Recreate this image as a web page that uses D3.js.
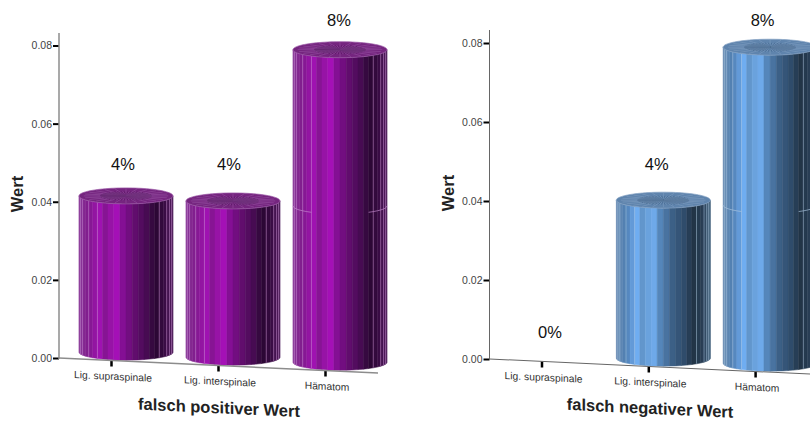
<!DOCTYPE html>
<html>
<head>
<meta charset="utf-8">
<script src="https://cdn.jsdelivr.net/npm/d3@7"></script>
<style>
  html, body { margin: 0; padding: 0; background: #fff; }
  svg { display: block; }
  text { font-family: "Liberation Sans", Arial, sans-serif; }
</style>
</head>
<body>
<svg id="chart" width="810" height="421"></svg>
<script>
// Daten
const categories = ["Lig. supraspinale", "Lig. interspinale", "Hämatom"];
const positiveValues = [0.04, 0.04, 0.08];
const negativeValues = [0, 0.04, 0.08];
const positiveLabels = ["4%", "4%", "8%"];
const negativeLabels = ["0%", "4%", "8%"];
const yTicks = [0, 0.02, 0.04, 0.06, 0.08];

// Schattierung der Zylinder von links nach rechts
const shadeStops = [0, 0.1, 0.22, 0.3, 0.38, 0.46, 0.6, 0.72, 0.82, 0.92, 1];
const purpleShades = ["#8a3a98", "#7f1a8c", "#a012b2", "#7e1589", "#b010c3", "#860f96", "#600d6c", "#470b52", "#2a0733", "#3b0c46", "#4e1a5a"];
const blueShades = ["#6d8fb4", "#4f7eb2", "#70aef3", "#5d8ebf", "#78b6fb", "#5688bd", "#3c5f85", "#2f4c6b", "#213446", "#293f56", "#42607c"];

const slope = 0.047;
const skewAngle = Math.atan(slope) * 180 / Math.PI;
const radius = 47, ry = 8, facets = 24;
const line = d3.line();
const svg = d3.select("#chart");

function drawPanel(p) {
    const g = svg.append("g");
    const y = d3.scaleLinear().domain([0, 0.08]).range([p.y0, p.y8]);
    const x = d3.scaleBand().domain(categories).range(p.xRange);
    const color = d3.scaleLinear().domain(shadeStops).range(p.shades);
    const axisY = px => p.y0 + (px - p.x0) * slope;

    // Zylinder
    categories.forEach((cat, i) => {
        if (p.values[i] > 0) {
            const cx = x(cat) + x.bandwidth() / 2 + 14.5;
            drawCylinder(g, cx, axisY(cx) - 9, y(0) - y(p.values[i]), y(0) - y(0.04), p.values[i] > 0.04, color, p);
        }
    });

    // Y-Achse
    const yAxis = g.append("g")
        .attr("transform", `translate(${p.x0},0)`)
        .call(d3.axisLeft(y).tickValues(yTicks).tickFormat(d3.format(".2f")).tickSize(6).tickPadding(1).tickSizeOuter(0));
    yAxis.select(".domain").remove();
    yAxis.selectAll("line").attr("stroke", "#000").attr("stroke-width", 2);
    yAxis.selectAll("text").attr("fill", "#444").style("font-size", "10.5px").style("font-family", '"Liberation Sans", Arial, sans-serif');
    g.append("line")
        .attr("x1", p.x0).attr("x2", p.x0)
        .attr("y1", p.yTop).attr("y2", p.y0 + 1)
        .attr("stroke", p.axisColor).attr("stroke-width", p.axisWidth);

    // X-Achse, leicht geneigt wie im 3D-Bild
    const skew = `translate(${p.x0},${p.y0}) skewY(${skewAngle}) translate(${-p.x0},0)`;
    const xAxis = g.append("g")
        .attr("transform", skew)
        .call(d3.axisBottom(x).tickSize(6).tickPadding(6).tickSizeOuter(0));
    xAxis.select(".domain").remove();
    xAxis.selectAll("line").attr("stroke", "#000").attr("stroke-width", 2.5);
    xAxis.selectAll("text").attr("fill", "#333").attr("dx", 1.5)
        .style("font-size", "10.3px").style("font-family", '"Liberation Sans", Arial, sans-serif');
    xAxis.append("line")
        .attr("x1", p.x0).attr("x2", p.axisEnd)
        .attr("stroke", p.axisColor).attr("stroke-width", p.axisWidth);

    // Prozentwerte
    g.selectAll(".pct")
        .data(p.labels)
        .join("text")
        .attr("class", "pct")
        .attr("x", (d, i) => x(categories[i]) + x.bandwidth() / 2 + p.labelDx[i])
        .attr("y", (d, i) => y(p.values[i]) - p.labelLift[i])
        .attr("dy", "0.35em")
        .attr("text-anchor", "middle")
        .attr("fill", "#111")
        .style("font-size", "16.5px")
        .text(d => d);

    // Achsentitel
    g.append("text")
        .attr("transform", `translate(${p.wertX},${p.wertY}) rotate(-90)`)
        .attr("text-anchor", "middle")
        .attr("fill", "#222")
        .style("font-size", "16.5px")
        .style("font-weight", "bold")
        .text("Wert");
    g.append("text")
        .attr("transform", `translate(${p.titleX},${p.titleY}) skewY(${skewAngle})`)
        .attr("text-anchor", "middle")
        .attr("dy", "0.35em")
        .attr("fill", "#222")
        .style("font-size", "16.5px")
        .style("font-weight", "bold")
        .text(p.title);
}

function drawCylinder(g, cx, yBase, h, seamH, hasSeam, color, p) {
    const yTop = yBase - h;
    const edge = (a, yc) => [cx - radius * Math.cos(a), yc + ry * Math.sin(a)];
    const step = Math.PI / facets;
    const cyl = g.append("g");

    // Mantel aus schmalen Streifen
    d3.range(facets).forEach(i => {
        const a0 = i * step, a1 = (i + 1) * step;
        const mid = (edge(a0, 0)[0] + edge(a1, 0)[0]) / 2;
        const c = color((mid - (cx - radius)) / (2 * radius));
        cyl.append("path")
            .attr("d", line([edge(a0, yTop), edge(a1, yTop), edge(a1, yBase), edge(a0, yBase)]) + "Z")
            .attr("fill", c)
            .attr("stroke", c)
            .attr("stroke-width", 0.5);
    });

    // helle Kanten am Rand des Mantels
    const hairlines = [2, 3, 5, 7, 18, 20, 21, 22];
    hairlines.forEach(i => {
        const a = i * step;
        cyl.append("path")
            .attr("d", line([edge(a, yTop), edge(a, yBase)]))
            .attr("stroke", p.hair)
            .attr("stroke-width", 0.7)
            .attr("opacity", 0.7)
            .attr("fill", "none");
    });

    // Naht des hohen Zylinders bei 0.04
    if (hasSeam) {
        [d3.range(0, 8), d3.range(17, 25)].forEach(part => {
            cyl.append("path")
                .attr("d", line(part.map(i => edge(i * step, yBase - seamH))))
                .attr("stroke", p.hair)
                .attr("stroke-width", 0.8)
                .attr("opacity", 0.85)
                .attr("fill", "none");
        });
    }

    // Deckel: Ellipse mit radialen Linien
    const rim = d3.range(0, 97).map(i => {
        const a = i * Math.PI / 48;
        return [cx - radius * Math.cos(a), yTop + ry * Math.sin(a)];
    });
    cyl.append("path")
        .attr("d", line(rim) + "Z")
        .attr("fill", p.top)
        .attr("stroke", p.topLight)
        .attr("stroke-width", 0.7);
    rim.slice(0, 96).forEach((pt, i) => {
        const reach = i % 4 === 0 ? 0.9 : 0.55;
        cyl.append("line")
            .attr("x1", cx).attr("y1", yTop)
            .attr("x2", cx + (pt[0] - cx) * reach).attr("y2", yTop + (pt[1] - yTop) * reach)
            .attr("stroke", i % 2 ? p.topDark : p.topLight)
            .attr("stroke-width", 0.55)
            .attr("opacity", 0.9);
    });
}

drawPanel({
    values: positiveValues, labels: positiveLabels, title: "falsch positiver Wert",
    x0: 59, y0: 358, y8: 45.5, yTop: 33, xRange: [58, 379], axisEnd: 378,
    axisColor: "#8c8c8c", axisWidth: 1.5,
    labelDx: [11.5, 10.5, 13.5], labelLift: [37.5, 37.5, 25],
    wertX: 23, wertY: 194, titleX: 219, titleY: 407.5,
    shades: purpleShades, hair: "#c58ad0", top: "#75257f", topDark: "#4d1358", topLight: "#9c5aa8"
});

drawPanel({
    values: negativeValues, labels: negativeLabels, title: "falsch negativer Wert",
    x0: 489.5, y0: 359, y8: 43, yTop: 30, xRange: [488.6, 809], axisEnd: 811,
    axisColor: "#666", axisWidth: 1,
    labelDx: [8, 8, 7], labelLift: [27, 37, 23],
    wertX: 454, wertY: 193, titleX: 650, titleY: 408,
    shades: blueShades, hair: "#a9c4df", top: "#5f84ad", topDark: "#3b5d84", topLight: "#86a3c4"
});
</script>
</body>
</html>
